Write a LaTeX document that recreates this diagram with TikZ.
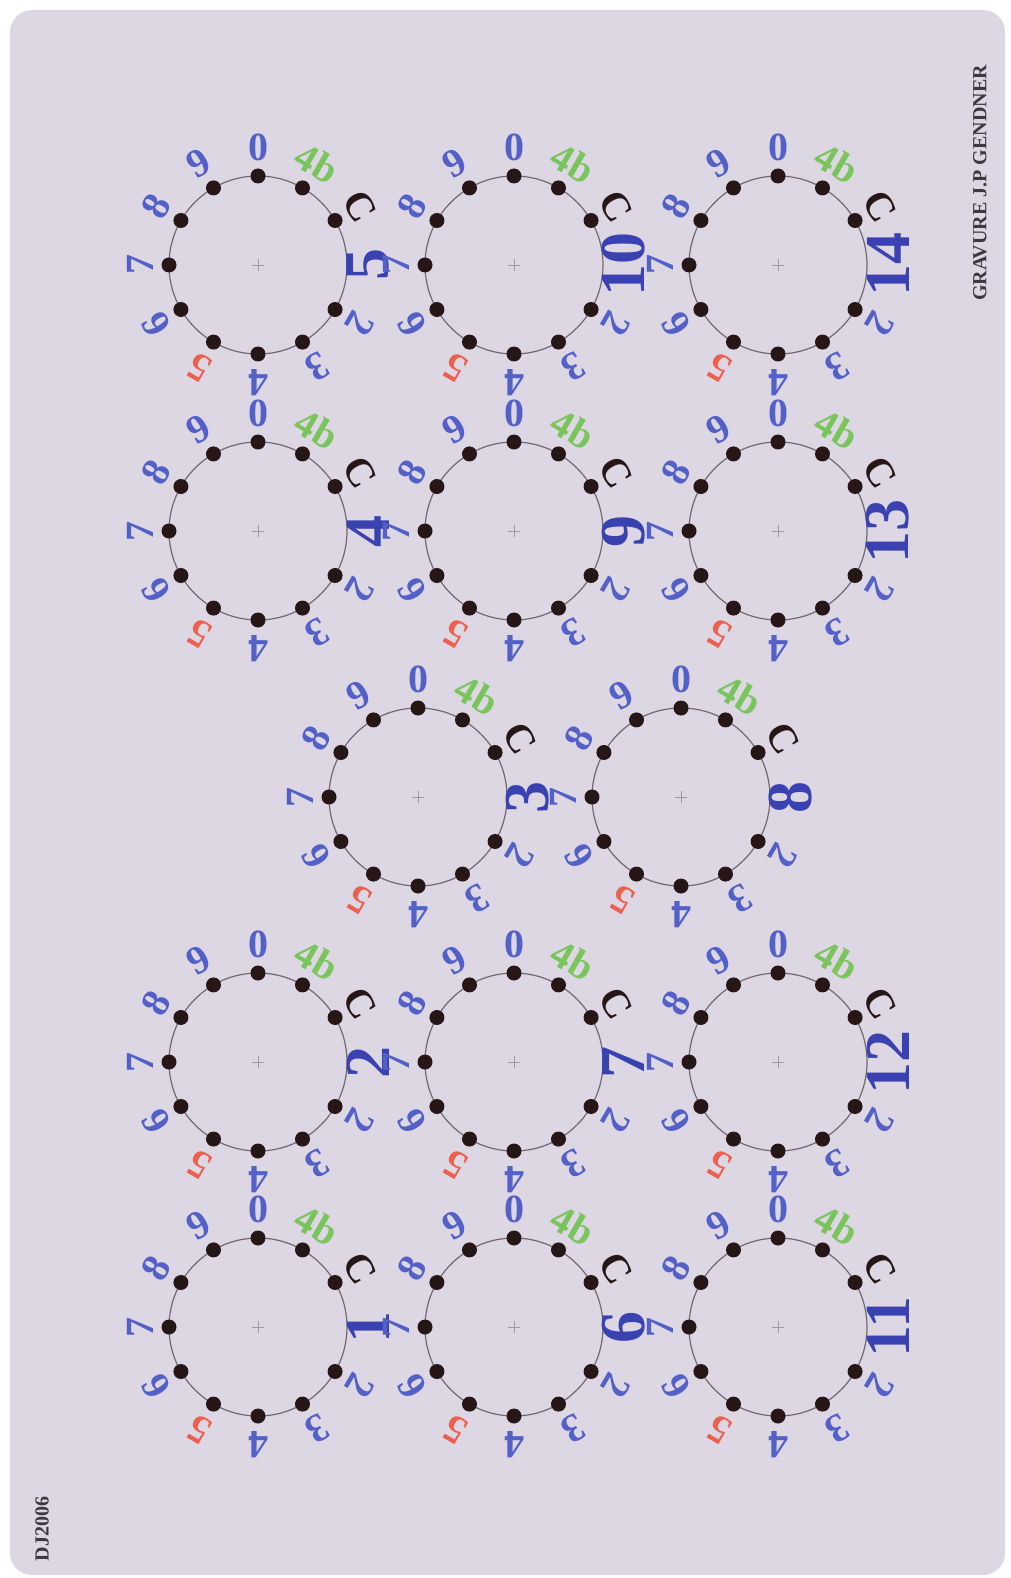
\documentclass[tikz,border=0pt]{standalone}
\usepackage{fontspec}
\setmainfont{Liberation Serif}
\usetikzlibrary{calc}
\definecolor{cardbg}{RGB}{221,215,228}
\definecolor{lblue}{RGB}{82,96,200}
\definecolor{dblue}{RGB}{58,66,178}
\definecolor{lgreen}{RGB}{122,196,92}
\definecolor{lred}{RGB}{236,96,78}
\definecolor{dotc}{RGB}{38,22,22}
\definecolor{ringc}{RGB}{112,104,114}
\definecolor{crossc}{RGB}{160,152,168}
\definecolor{inkc}{RGB}{62,56,62}
\tikzset{
  ring/.style={draw=ringc,line width=1.2pt},
  crossmark/.style={draw=crossc,line width=0.7pt},
  dialdot/.style={circle,fill=dotc,inner sep=0pt,minimum size=15pt},
  lbl/.style={font=\fontsize{40}{40}\selectfont\bfseries,inner sep=0pt},
  dialnum/.style={font=\fontsize{64}{64}\selectfont\bfseries,text=dblue,inner sep=0pt,rotate=90},
  credit/.style={font=\fontsize{20}{20}\selectfont\bfseries,text=inkc,rotate=90,inner sep=0pt}
}
\newcommand\mydial[4]{%
  \coordinate (#1) at (#2,#3);
  \draw[ring] (#1) circle[radius=89];
  \draw[crossmark] ($(#1)+(-6,0)$) -- ($(#1)+(6,0)$) ($(#1)+(0,-6)$) -- ($(#1)+(0,6)$);
  \foreach \a/\t/\c [count=\i] in {0/0/lblue,30/4b/lgreen,60/C/dotc,120/2/lblue,150/3/lblue,180/4/lblue,210/5/lred,240/6/lblue,270/7/lblue,300/8/lblue,330/9/lblue}{
    \node[dialdot] (#1d\i) at ($(#1)+({89*sin(\a)},{-89*cos(\a)})$) {};
    \node[lbl,text=\c,rotate=-\a] (#1l\i) at ($(#1)+({118*sin(\a)},{-118*cos(\a)})$) {\t};
  }
  \node[dialnum] (#1n) at ($(#1)+(110,0)$) {#4};
}
\begin{document}
\begin{tikzpicture}[x=1pt,y=-1pt]
\useasboundingbox (0,0) rectangle (1010,1578);
\fill[white] (0,0) rectangle (1010,1578);
\fill[cardbg,rounded corners=22pt] (10,10) rectangle (1005,1575);
% top block
\mydial{c5}{258}{265}{5}
\mydial{c10}{514}{265}{10}
\mydial{c14}{778}{265}{14}
\mydial{c4}{258}{531}{4}
\mydial{c9}{514}{531}{9}
\mydial{c13}{778}{531}{13}
% middle
\mydial{c3}{418}{797}{3}
\mydial{c8}{681}{797}{8}
% bottom block
\mydial{c2}{258}{1062}{2}
\mydial{c7}{514}{1062}{7}
\mydial{c12}{778}{1062}{12}
\mydial{c1}{258}{1327}{1}
\mydial{c6}{514}{1327}{6}
\mydial{c11}{778}{1327}{11}
\node[credit] (grav) at (980,183) {GRAVURE J.P GENDNER};
\node[credit] (dj) at (42,1529) {DJ2006};
\end{tikzpicture}
\end{document}
